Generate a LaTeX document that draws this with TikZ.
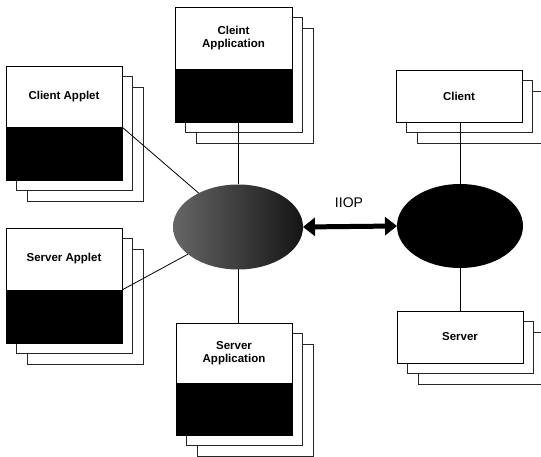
\documentclass[tikz,border=0pt]{standalone}
\usepackage{fontspec}
\setmainfont{Liberation Sans}
\usepackage{tikz}
\usetikzlibrary{shapes.geometric,arrows.meta,positioning}

\tikzset{
  sheet/.style={draw=black!85, line width=0.8pt, fill=white},
  toppart/.style={draw, line width=0.8pt, fill=white, inner sep=0pt, outer sep=0pt,
    font=\bfseries\fontsize{11.5}{12.5}\selectfont, align=center},
  botpart/.style={draw, line width=0.8pt, fill=black, inner sep=0pt, outer sep=0pt},
  orb/.style={ellipse, inner sep=0pt, outer sep=0pt},
  link/.style={line width=0.8pt}
}

\begin{document}
\begin{tikzpicture}[x=1pt, y=-1pt]
    \useasboundingbox (0,0) rectangle (541,457);
    \clip (0,0) rectangle (541,457);

    % Back sheets of the stacks
    \foreach \d in {21,10.5} {
      \draw [sheet] ({6+\d},{66+\d}) rectangle ({122+\d},{180+\d});    % Client Applet
      \draw [sheet] ({6+\d},{228+\d}) rectangle ({122+\d},{343+\d});   % Server Applet
      \draw [sheet] ({175+\d},{7+\d}) rectangle ({292+\d},{122+\d});   % Client Application
      \draw [sheet] ({176+\d},{323+\d}) rectangle ({292+\d},{435+\d}); % Server Application
      \draw [sheet] ({396+\d},{70+\d}) rectangle ({522+\d},{122+\d});  % Client
      \draw [sheet] ({397+\d},{311+\d}) rectangle ({523+\d},{363+\d}); % Server
    }

    % Front sheets
    \node [toppart, minimum width=116pt, minimum height=61pt] (caplw) at (64,96.5) {Client Applet};
    \node [botpart, minimum width=116pt, minimum height=53pt, below=0pt of caplw] (caplb) {};
    \node [toppart, minimum width=116pt, minimum height=62pt] (saplw) at (64,259) {Server Applet};
    \node [botpart, minimum width=116pt, minimum height=53pt, below=0pt of saplw] (saplb) {};
    \node [toppart, minimum width=117pt, minimum height=62pt] (cappw) at (233.5,38) {Cleint\\Application};
    \node [botpart, minimum width=117pt, minimum height=53pt, below=0pt of cappw] (cappb) {};
    \node [toppart, minimum width=116pt, minimum height=60pt] (sappw) at (234,353) {Server\\Application};
    \node [botpart, minimum width=116pt, minimum height=52pt, below=0pt of sappw] (sappb) {};
    \node [toppart, minimum width=126pt, minimum height=52pt] (cli) at (459,96) {Client};
    \node [toppart, minimum width=126pt, minimum height=52pt] (srv) at (460,337) {Server};

    % ORBs
    \node [orb, left color=black!60, right color=black!92, minimum width=130pt, minimum height=85pt] (lorb) at (238,227) {};
    \node [orb, fill=black, minimum width=126pt, minimum height=84pt] (rorb) at (460,226) {};

    % Connections
    \draw [link] (caplw.south east) -- (lorb);
    \draw [link] (saplw.south east) -- (lorb);
    \draw [link] (lorb.north) -- (lorb.north |- cappb.south);
    \draw [link] (lorb.south) -- (lorb.south |- sappw.north);
    \draw [link] (rorb.north) -- (rorb.north |- cli.south);
    \draw [link] (rorb.south) -- (rorb.south |- srv.north);

    % IIOP
    \draw [line width=5pt, {Triangle[width=18pt,length=12pt]}-{Triangle[width=18pt,length=12pt]}] (lorb.east) -- (rorb.west);
    \node [font=\fontsize{14}{15}\selectfont] (iiop) at (349,203) {IIOP};
\end{tikzpicture}
\end{document}
